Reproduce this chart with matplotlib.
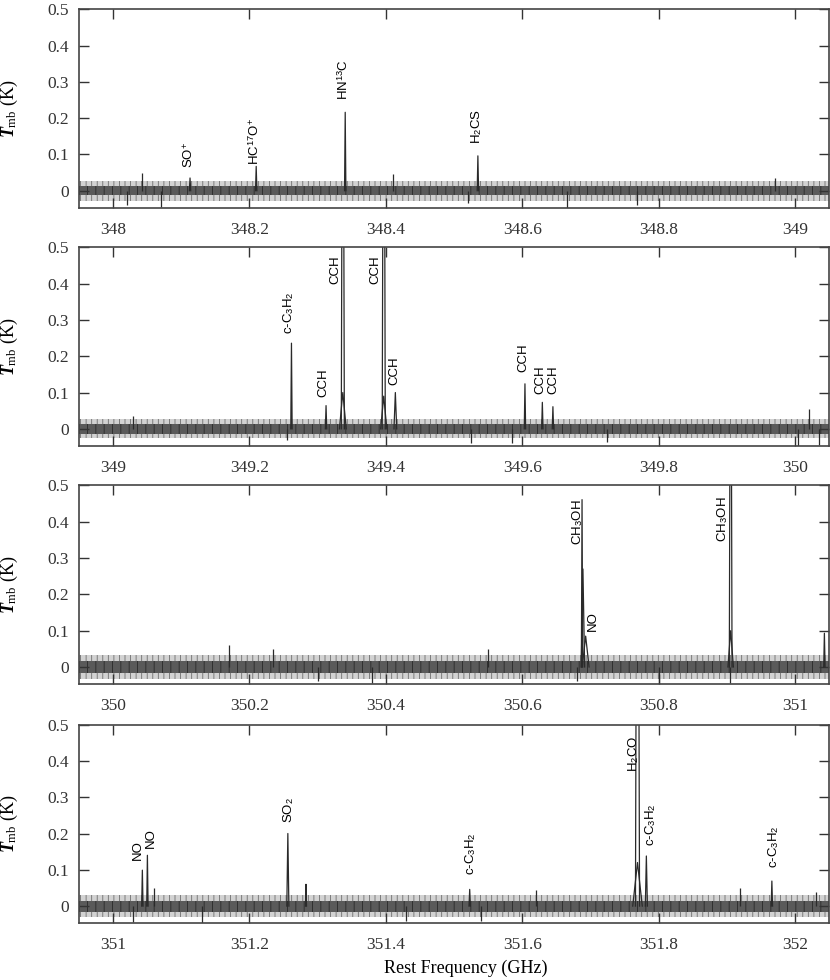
import numpy as np
import matplotlib
matplotlib.use("Agg")
import matplotlib.pyplot as plt
from matplotlib.ticker import FuncFormatter, MultipleLocator

plt.rcParams["font.family"] = ["Liberation Serif", "DejaVu Serif"]
plt.rcParams["mathtext.fontset"] = "custom"
plt.rcParams["mathtext.rm"] = "Liberation Sans"
plt.rcParams["mathtext.it"] = "Liberation Serif:bold:italic"
plt.rcParams["mathtext.sf"] = "Liberation Serif"
plt.rcParams["hatch.linewidth"] = 0.6

# frequency window of each panel (GHz)
panel_start = [347.95, 348.95, 349.95, 350.95]
panel_stop = [349.05, 350.05, 351.05, 352.05]

# baseline noise envelope (K): dense core and outer excursions
noise_core = [0.013, 0.013, 0.016, 0.015]
noise_outer = [0.028, 0.026, 0.034, 0.03]

# line components: centre (GHz), peak (K), full base width (GHz)
p1_freq = [348.113, 348.210, 348.3405, 348.535]
p1_peak = [0.035, 0.067, 0.216, 0.096]
p1_width = [0.002, 0.002, 0.002, 0.002]

p2_freq = [349.2617, 349.3124, 349.337, 349.337, 349.397, 349.397, 349.414, 349.604, 349.6295, 349.645]
p2_peak = [0.236, 0.064, 1.6, 0.10, 1.6, 0.09, 0.10, 0.124, 0.073, 0.061]
p2_width = [0.002, 0.002, 0.0045, 0.01, 0.0045, 0.009, 0.004, 0.002, 0.002, 0.002]

p3_freq = [350.6877, 350.689, 350.693, 350.9056, 350.9056, 351.043]
p3_peak = [0.461, 0.27, 0.085, 1.4, 0.10, 0.093]
p3_width = [0.002, 0.005, 0.01, 0.004, 0.008, 0.002]

p4_freq = [351.0431, 351.0505, 351.2564, 351.283, 351.523, 351.769, 351.769, 351.782, 351.966]
p4_peak = [0.099, 0.14, 0.20, 0.06, 0.046, 2.0, 0.12, 0.138, 0.069]
p4_width = [0.002, 0.002, 0.003, 0.0015, 0.002, 0.006, 0.014, 0.003, 0.002]

# strongest noise excursions: (GHz, K)
p1_spike_f = [348.02, 348.043, 348.07, 348.41, 348.52, 348.665, 348.768, 348.97]
p1_spike_v = [-0.04, 0.05, -0.045, 0.045, -0.035, -0.065, -0.04, 0.035]
p2_spike_f = [349.03, 349.255, 349.525, 349.585, 349.725, 350.005, 350.02, 350.035]
p2_spike_v = [0.035, -0.03, -0.038, -0.04, -0.035, -0.05, 0.055, -0.045]
p3_spike_f = [350.17, 350.235, 350.30, 350.38, 350.55, 350.68, 350.80, 350.905]
p3_spike_v = [0.06, 0.05, -0.04, -0.045, 0.05, -0.04, -0.05, -0.045]
p4_spike_f = [351.03, 351.06, 351.13, 351.43, 351.54, 351.62, 351.92, 352.03]
p4_spike_v = [-0.045, 0.05, -0.05, -0.04, -0.04, 0.045, 0.05, 0.04]

# species labels: (centre GHz, bottom K, text)
p1_labels = [(348.112, 0.063, r"SO$^{+}$"), (348.208, 0.07, r"HC$^{17}$O$^{+}$"),
             (348.338, 0.25, r"HN$^{13}$C"), (348.533, 0.13, r"H$_2$CS")]
p2_labels = [(349.258, 0.26, r"c-C$_3$H$_2$"), (349.308, 0.087, "CCH"),
             (349.326, 0.40, "CCH"), (349.385, 0.40, "CCH"), (349.413, 0.12, "CCH"),
             (349.602, 0.157, "CCH"), (349.627, 0.096, "CCH"), (349.645, 0.096, "CCH")]
p3_labels = [(350.681, 0.335, r"CH$_3$OH"), (350.703, 0.10, "NO"),
             (350.894, 0.345, r"CH$_3$OH")]
p4_labels = [(351.0365, 0.128, "NO"), (351.0556, 0.16, "NO"), (351.257, 0.23, r"SO$_2$"),
             (351.525, 0.087, r"c-C$_3$H$_2$"), (351.763, 0.37, r"H$_2$CO"),
             (351.788, 0.165, r"c-C$_3$H$_2$"), (351.968, 0.105, r"c-C$_3$H$_2$")]

panels = [
    (p1_freq, p1_peak, p1_width, p1_spike_f, p1_spike_v, p1_labels),
    (p2_freq, p2_peak, p2_width, p2_spike_f, p2_spike_v, p2_labels),
    (p3_freq, p3_peak, p3_width, p3_spike_f, p3_spike_v, p3_labels),
    (p4_freq, p4_peak, p4_width, p4_spike_f, p4_spike_v, p4_labels),
]

fig = plt.figure(figsize=(8.3, 9.8), dpi=100)
bottoms = [0.788, 0.545, 0.302, 0.058]
line_col = "#2a2a2a"

for i, (freq, peak, width, sf, sv, labels) in enumerate(panels):
    ax = fig.add_axes([0.095, bottoms[i], 0.904, 0.2026])
    x0, x1 = panel_start[i], panel_stop[i]

    # noise band: light outer envelope with a hatched texture, darker core
    ax.fill_between([x0, x1], -noise_outer[i], noise_outer[i], facecolor="#d2d2d2",
                    edgecolor="#6e6e6e", hatch="|||", lw=0)
    ax.fill_between([x0, x1], -noise_core[i], noise_core[i], facecolor="#5a5a5a",
                    edgecolor="#2a2a2a", hatch="||", lw=0)

    # noise spikes
    ax.vlines(sf, 0, sv, color=line_col, lw=0.9)

    # emission lines
    for f, h, w in zip(freq, peak, width):
        ax.plot([f - w / 2, f, f + w / 2], [0, h, 0], color=line_col, lw=0.9)

    for f, yb, txt in labels:
        ax.text(f, yb, txt, rotation=90, ha="center", va="bottom", fontsize=9.5,
                family=["Liberation Sans", "DejaVu Sans"])

    ax.set_xlim(x0, x1)
    ax.set_ylim(-0.047, 0.5)
    ax.xaxis.set_major_locator(MultipleLocator(0.2))
    ax.yaxis.set_major_locator(MultipleLocator(0.1))
    ax.xaxis.set_major_formatter(FuncFormatter(lambda v, p: "%g" % round(v, 1)))
    ax.yaxis.set_major_formatter(FuncFormatter(lambda v, p: "%g" % round(v, 1)))
    ax.tick_params(direction="in", top=True, right=True, length=7, width=1,
                   labelsize=12.5, pad=7, colors="#333333")
    ax.tick_params(axis="x", pad=10)
    for s in ax.spines.values():
        s.set_linewidth(1.2)
        s.set_color("#444444")
    ax.set_ylabel(r"$\mathit{T}_{\mathsf{mb}}$ (K)", fontsize=13, labelpad=6)
    ax.yaxis.set_label_coords(-0.078, 0.5)

fig.text(466 / 830, 1 - 968 / 980, "Rest Frequency (GHz)", ha="center", va="center",
         fontsize=13)

fig.savefig("out.png", dpi=100)
